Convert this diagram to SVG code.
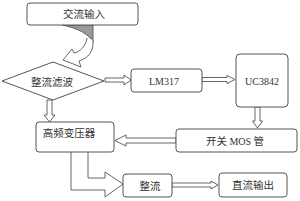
<svg xmlns="http://www.w3.org/2000/svg" width="300" height="201" viewBox="0 0 300 201">
<style>
.box{fill:#fff;stroke:#555;stroke-width:1}
.arr{fill:#fff;stroke:#555;stroke-width:0.9;stroke-linejoin:miter}
.cn{font-family:"Noto Sans CJK SC","Noto Sans",sans-serif;font-size:10.5px;fill:#333;text-anchor:middle}
.en{font-family:"Liberation Serif",serif;font-size:10px;fill:#333;text-anchor:middle}
</style>
<rect width="300" height="201" fill="#fff"/>
<g id="connectors">
  <path d="M62,25 L93,25 L93,42 C90,35 78,28 62,25 Z" fill="#9a9a9a" stroke="#555" stroke-width="0.9"/>
  <path class="arr" d="M93,40 C94,52 88,58 79,61 L81,67 L63,60 L72,49 L74,53 C80,52 86,46 87,38"/>
  <path class="arr" d="M105,78 L124,78 L124,75 L131,80 L124,85 L124,82 L105,82 Z"/>
  <path class="arr" d="M202,77.5 L227,77.5 L227,75.5 L235,79.5 L227,83.5 L227,81.5 L202,81.5 Z"/>
  <path class="arr" d="M255,107 L255,121 L252.5,121 L257.5,128 L262.5,121 L260,121 L260,107 Z"/>
  <path class="arr" d="M176,138 L126,138 L126,135 L115,140.5 L126,146 L126,143 L176,143 Z"/>
  <path class="arr" d="M47,100 L47,115 L44,115 L49.5,122 L55,115 L52,115 L52,100 Z"/>
  <path class="arr" d="M71,152 L71,190 L105,190 L105,197 L123,184 L105,172 L105,178 L88,178 L88,152"/>
  <path class="arr" d="M172,183 L211,183 L211,181 L218,185 L211,189 L211,187 L172,187 Z"/>
</g>
<g id="n-ac-input">
  <rect class="box" x="27" y="3" width="111" height="22" rx="3"/>
  <text class="cn" x="84" y="18">交流输入</text>
</g>
<g id="n-rectifier-filter">
  <polygon class="box" points="2,81 53,62 104,81 53,100"/>
  <text class="cn" x="52" y="85.5">整流滤波</text>
</g>
<g id="n-lm317">
  <rect class="box" x="131" y="69" width="71" height="23" rx="3"/>
  <text class="en" x="164" y="85">LM317</text>
</g>
<g id="n-uc3842">
  <rect class="box" x="236" y="54" width="52" height="53" rx="4"/>
  <text class="en" x="262" y="85">UC3842</text>
</g>
<g id="n-mos">
  <rect class="box" x="176" y="129" width="121" height="23" rx="3"/>
  <text class="cn" x="235" y="144.5">开关 <tspan font-family="Liberation Serif, serif" font-size="10px">MOS</tspan> 管</text>
</g>
<g id="n-transformer">
  <rect class="box" x="36" y="122" width="78" height="30" rx="3"/>
  <text class="cn" x="69" y="137">高频变压器</text>
</g>
<g id="n-rectify">
  <rect class="box" x="123" y="174" width="49" height="23" rx="3"/>
  <text class="cn" x="150" y="189.5">整流</text>
</g>
<g id="n-dc-output">
  <rect class="box" x="219" y="173" width="68" height="24" rx="3"/>
  <text class="cn" x="253" y="189">直流输出</text>
</g>
</svg>
